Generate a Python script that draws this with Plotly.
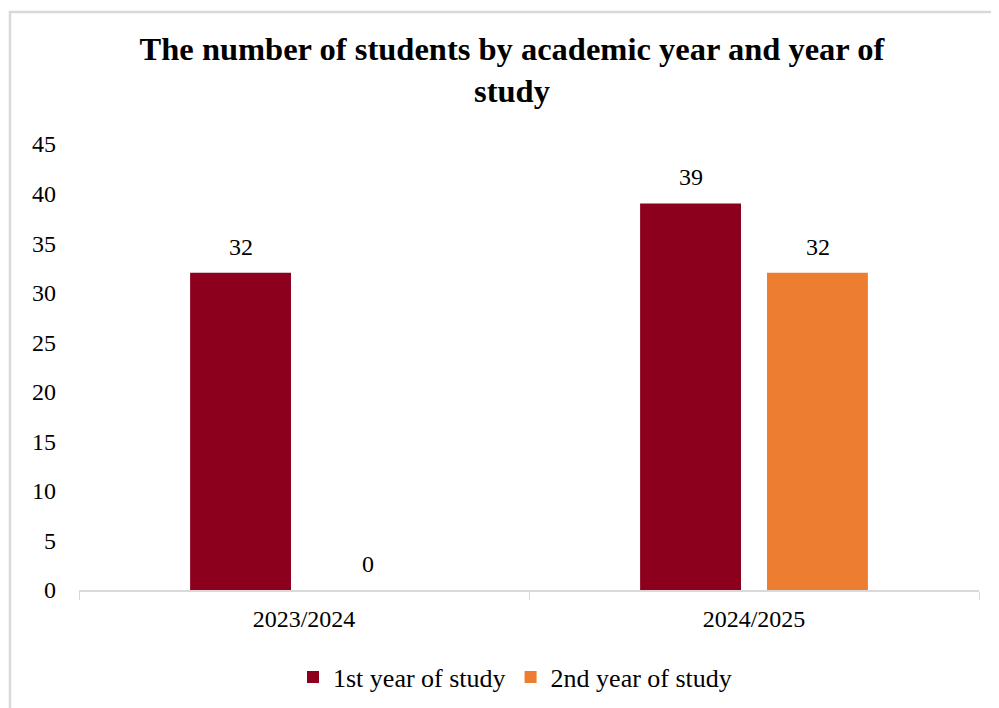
import plotly.graph_objects as go

categories = ["2023/2024", "2024/2025"]
series_names = ["1st year of study", "2nd year of study"]
first_year = [32, 39]
second_year = [0, 32]
colors = ["#8C001E", "#ED7D31"]
y_ticks = [0, 5, 10, 15, 20, 25, 30, 35, 40, 45]

FONT = "Liberation Serif, Times New Roman, serif"

# page offset (body margin)
OFF = 8
W, H = 999, 708
# desired plot area in page pixels: x 79..979, y 144..590
L = 79 - OFF
T = 144 - OFF
R = W + OFF - 979
B = H + OFF - 590
pw, ph = W - L - R, H - T - B

def px_x(x):
    return (x - OFF - L) / pw

def px_y(y):
    return (H - B - (y - OFF)) / ph

fig = go.Figure()
for name, vals, col in zip(series_names, [first_year, second_year], colors):
    fig.add_trace(go.Bar(
        x=categories, y=vals, name=name,
        marker=dict(color=col, line=dict(width=0)),
        cliponaxis=False,
    ))

# data labels above bars
bar_offsets = [-63.5, 63.5]
annotations = []
for vals, dx in zip([first_year, second_year], bar_offsets):
    for cat, v in zip(categories, vals):
        annotations.append(dict(
            x=cat, y=v, xref="x", yref="y", text=str(v), showarrow=False,
            xshift=dx, yshift=26, yanchor="middle",
            font=dict(family=FONT, size=24, color="#000000"),
        ))

fig.update_layout(
    width=W, height=H,
    margin=dict(l=L, r=R, t=T, b=B),
    paper_bgcolor="white", plot_bgcolor="white",
    barmode="group", bargap=0.436, bargroupgap=0.205,
    font=dict(family=FONT, size=24, color="#000000"),
    title=dict(
        text="<b>The number of students by academic year and year of<br>study</b>",
        x=(512 - OFF) / W, xanchor="center", xref="container",
        y=1 - (60 - OFF) / H, yanchor="top", yref="container",
        font=dict(family=FONT, size=32.5, color="#000000"),
    ),
    legend=dict(
        orientation="h", x=px_x(515), xanchor="center",
        y=px_y(677), yanchor="middle",
        font=dict(family=FONT, size=26, color="#000000"),
        itemwidth=30, tracegroupgap=0,
    ),
    xaxis=dict(
        showline=True, linecolor="#d9d9d9", linewidth=1.5,
        ticks="outside", tickson="boundaries", ticklen=8, tickcolor="#d9d9d9",
        showgrid=False, tickfont=dict(family=FONT, size=24),
        ticklabelstandoff=6,
    ),
    yaxis=dict(
        range=[0, 45], tickvals=y_ticks, showgrid=False, zeroline=False,
        showline=False, ticks="", tickfont=dict(family=FONT, size=24),
        ticklabelstandoff=22,
    ),
    annotations=annotations,
    shapes=[dict(
        type="rect", xref="paper", yref="paper",
        x0=px_x(10), x1=px_x(1020), y0=px_y(740), y1=px_y(12),
        line=dict(color="#d9d9d9", width=2.5), fillcolor="rgba(0,0,0,0)",
        layer="below",
    )],
)

fig.write_html("out.html")
